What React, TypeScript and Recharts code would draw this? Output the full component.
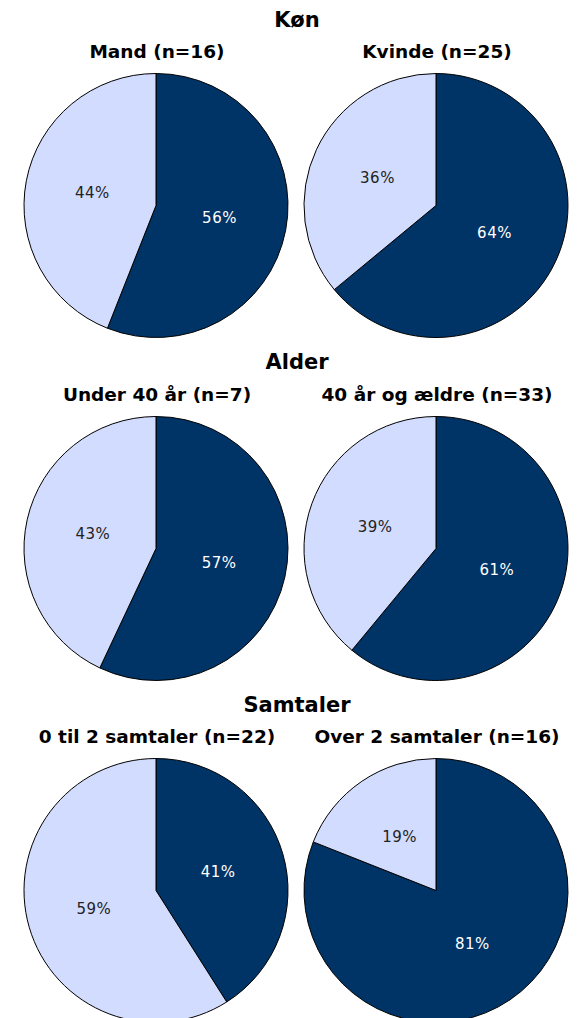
import React from "react";
import { PieChart, Pie, Cell } from "recharts";

// section titles and the sub-group labels under each
const sectionTitles = ["Køn", "Alder", "Samtaler"];
const groupLabels = [
  ["Mand (n=16)", "Kvinde (n=25)"],
  ["Under 40 år (n=7)", "40 år og ældre (n=33)"],
  ["0 til 2 samtaler (n=22)", "Over 2 samtaler (n=16)"],
];
// share per pie, row by row (left, right)
const darkShare = [56, 64, 57, 61, 41, 81];
const lightShare = [44, 36, 43, 39, 59, 19];

const DARK = "#003366";
const LIGHT = "#D2DCFF";
const FONT = "'DejaVu Sans', Verdana, sans-serif";
const RADIAN = Math.PI / 180;

const ROW_H = 342.5;
const PIE_CX = [156, 436];
const PIE_CY = 205.5;
const R = 132;

function renderLabel(props: any) {
  const { cx, cy, midAngle, outerRadius, payload } = props;
  const r = outerRadius * 0.49;
  const x = cx + r * Math.cos(-midAngle * RADIAN);
  const y = cy + r * Math.sin(-midAngle * RADIAN);
  return (
    <text
      x={x}
      y={y}
      textAnchor="middle"
      dominantBaseline="central"
      fill={payload.dark ? "#ffffff" : "#222222"}
      fontFamily={FONT}
      fontSize={15}
      letterSpacing={0.5}
    >
      {`${payload.value}%`}
    </text>
  );
}

function Row({ idx }: { idx: number }) {
  const pies = [0, 1].map(k => {
    const i = idx * 2 + k;
    return [
      { name: "dark", value: darkShare[i], dark: true },
      { name: "light", value: lightShare[i], dark: false },
    ];
  });
  return (
    <div style={{ position: "absolute", left: 0, top: idx * ROW_H, width: 578, height: ROW_H + 20 }}>
      <div
        style={{
          position: "absolute", left: 297 - 150, width: 300, top: 9.5, textAlign: "center",
          fontFamily: FONT, fontWeight: "bold", fontSize: 21, lineHeight: "21px", color: "#000",
        }}
      >
        {sectionTitles[idx]}
      </div>
      {groupLabels[idx].map((g, k) => (
        <div
          key={g}
          style={{
            position: "absolute", left: PIE_CX[k] + 1 - 140, width: 280, top: 43, textAlign: "center",
            fontFamily: FONT, fontWeight: "bold", fontSize: 18.5, lineHeight: "18.5px", color: "#000",
            whiteSpace: "nowrap",
          }}
        >
          {g}
        </div>
      ))}
      <div style={{ position: "absolute", left: 0, top: 0 }}>
        <PieChart width={578} height={ROW_H + 20} margin={{ top: 0, right: 0, bottom: 0, left: 0 }}>
          {pies.map((d, k) => (
            <Pie
              key={k}
              data={d}
              dataKey="value"
              cx={PIE_CX[k]}
              cy={PIE_CY}
              outerRadius={R}
              startAngle={90}
              endAngle={-270}
              stroke="#000"
              strokeWidth={1}
              label={renderLabel}
              labelLine={false}
              isAnimationActive={false}
            >
              {d.map(e => (
                <Cell key={e.name} fill={e.dark ? DARK : LIGHT} />
              ))}
            </Pie>
          ))}
        </PieChart>
      </div>
    </div>
  );
}

export default function App() {
  return (
    <div
      style={{
        position: "absolute", left: 0, top: 0, width: 578, height: 1018,
        overflow: "hidden", background: "#fff",
      }}
    >
      {sectionTitles.map((_, i) => (
        <Row key={i} idx={i} />
      ))}
    </div>
  );
}
